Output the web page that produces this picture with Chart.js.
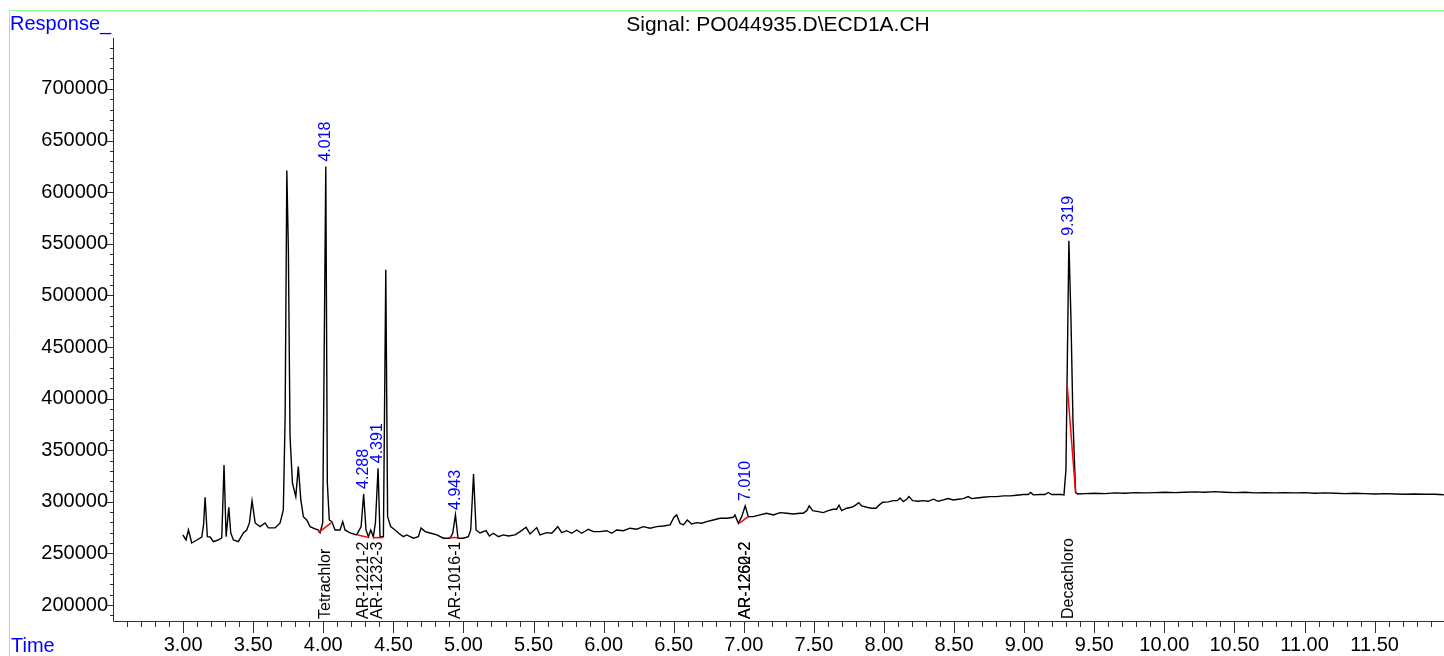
<!DOCTYPE html>
<html>
<head>
<meta charset="utf-8">
<title>Signal: PO044935.D\ECD1A.CH</title>
<script src="https://cdn.jsdelivr.net/npm/chart.js@4.4.0/dist/chart.umd.min.js"></script>
<style>
  html, body { margin: 0; padding: 0; background: #fff; }
  #wrap { width: 1444px; height: 656px; }
</style>
</head>
<body>
<div id="wrap"><canvas id="chromChart" width="1444" height="656"></canvas></div>
<script>
// Trace: retention time (min) and detector response
const times = [
    2.998, 3.021, 3.038, 3.062, 3.098, 3.133, 3.146, 3.157, 3.173, 3.193,
    3.216, 3.250, 3.276, 3.292, 3.307, 3.326, 3.340, 3.359, 3.394, 3.430,
    3.454, 3.473, 3.492, 3.514, 3.549, 3.585, 3.608, 3.656, 3.692, 3.715,
    3.728, 3.740, 3.751, 3.763, 3.780, 3.804, 3.822, 3.840, 3.858, 3.882,
    3.906, 3.929, 3.965, 3.977, 3.996, 4.018, 4.029, 4.043, 4.061, 4.084,
    4.120, 4.139, 4.155, 4.191, 4.239, 4.270, 4.288, 4.305, 4.322, 4.339,
    4.357, 4.372, 4.391, 4.405, 4.429, 4.446, 4.459, 4.481, 4.512, 4.536,
    4.571, 4.595, 4.643, 4.678, 4.698, 4.726, 4.762, 4.810, 4.857, 4.904,
    4.924, 4.943, 4.961, 4.999, 5.035, 5.052, 5.072, 5.090, 5.118, 5.161,
    5.185, 5.213, 5.249, 5.285, 5.320, 5.368, 5.404, 5.447, 5.475, 5.523,
    5.546, 5.594, 5.630, 5.673, 5.701, 5.737, 5.772, 5.808, 5.844, 5.891,
    5.927, 5.974, 6.022, 6.058, 6.093, 6.141, 6.188, 6.236, 6.283, 6.331,
    6.379, 6.426, 6.474, 6.502, 6.521, 6.545, 6.568, 6.597, 6.628, 6.664,
    6.700, 6.735, 6.782, 6.830, 6.878, 6.925, 6.937, 6.961, 6.985, 7.010,
    7.032, 7.068, 7.116, 7.163, 7.211, 7.258, 7.306, 7.353, 7.401, 7.424,
    7.449, 7.467, 7.491, 7.531, 7.567, 7.603, 7.638, 7.662, 7.679, 7.698,
    7.734, 7.770, 7.800, 7.820, 7.841, 7.877, 7.912, 7.943, 7.967, 7.991,
    8.031, 8.066, 8.095, 8.114, 8.138, 8.162, 8.178, 8.205, 8.245, 8.280,
    8.316, 8.352, 8.387, 8.423, 8.459, 8.494, 8.530, 8.566, 8.601, 8.625,
    8.661, 8.708, 8.756, 8.804, 8.851, 8.899, 8.946, 8.994, 9.029, 9.046,
    9.065, 9.113, 9.148, 9.172, 9.196, 9.232, 9.267, 9.284, 9.298, 9.319,
    9.334, 9.348, 9.367, 9.383, 9.434, 9.505, 9.576, 9.648, 9.719, 9.790,
    9.862, 9.933, 10.004, 10.076, 10.147, 10.218, 10.290, 10.361, 10.432, 10.504,
    10.575, 10.646, 10.718, 10.789, 10.860, 10.932, 11.003, 11.074, 11.146, 11.217,
    11.288, 11.360, 11.431, 11.502, 11.573, 11.645, 11.716, 11.787, 11.859, 11.930,
    11.994
];
const response = [
    267900, 263000, 272700, 260100, 263000, 265900, 277600, 304400, 266200, 265900,
    261400, 263000, 265000, 335700, 266200, 294700, 269800, 263000, 261400, 269800,
    272700, 279500, 301100, 279500, 275900, 279500, 274700, 274700, 279500, 292100,
    382600, 621100, 544200, 363200, 318300, 305000, 334100, 301800, 285600, 282400,
    275900, 274400, 272700, 270100, 279500, 624800, 318300, 282400, 280800, 272700,
    272700, 280800, 272700, 269800, 267900, 275900, 307600, 272700, 266200, 272700,
    266200, 279500, 332500, 266200, 266200, 524800, 285600, 275900, 272700, 269800,
    266200, 267900, 264700, 266200, 274700, 271100, 269800, 267900, 264700, 264700,
    269800, 287300, 264700, 264700, 266200, 272700, 327000, 272700, 269800, 272000,
    266900, 269500, 266200, 267900, 266900, 267900, 271100, 275300, 268800, 275000,
    267900, 270100, 269500, 275900, 270100, 272000, 269500, 272700, 269500, 273400,
    271100, 271100, 272000, 269500, 272700, 272000, 274400, 273400, 275900, 274400,
    275900, 276600, 277600, 285000, 287300, 279200, 277600, 282400, 278500, 279800,
    279200, 280800, 282400, 284100, 284100, 285000, 287300, 279200, 285600, 296000,
    285600, 285600, 287300, 288900, 287300, 289500, 288900, 288200, 288900, 288900,
    291400, 296000, 291400, 290500, 289500, 291400, 292800, 292800, 296700, 291400,
    293800, 294700, 297000, 299200, 296000, 294700, 293800, 293800, 297000, 299600,
    299900, 301100, 301100, 303700, 300200, 302500, 305000, 301100, 300500, 301100,
    300500, 302500, 300500, 301800, 303100, 301800, 302500, 303100, 305000, 303100,
    303700, 304400, 305000, 305000, 305700, 305700, 306400, 307000, 307000, 309000,
    306700, 307000, 307000, 309000, 307000, 307000, 307000, 306700, 330900, 552900,
    476300, 379400, 308900, 307600, 307900, 308300, 307900, 308600, 308300, 308900,
    308600, 308900, 309300, 308900, 309300, 309600, 309300, 309900, 309300, 308900,
    309300, 308600, 308900, 308600, 308900, 308600, 308900, 308300, 308600, 308300,
    307900, 308300, 307900, 307600, 307900, 307600, 307300, 307600, 307300, 307300,
    306900
];

// Integration baselines (red), start and end of each
const baseStartT = [3.965, 4.246, 4.353, 4.892, 6.966, 9.307];
const baseStartV = [270100, 267900, 265300, 265300, 279200, 413300];
const baseEndT   = [4.056, 4.329, 4.424, 4.964, 7.032, 9.367];
const baseEndV   = [279500, 265300, 265300, 265300, 285600, 308900];

// Peak annotations
const peakTimes = [4.018, 4.288, 4.391, 4.943, 7.010, 9.319];
const compoundTimes = [4.018, 4.288, 4.391, 4.943, 7.010, 7.010, 9.319];
const compoundNames = ['Tetrachlor', 'AR-1221-2', 'AR-1232-3', 'AR-1016-1', 'AR-1260-2', 'AR-1262-2', 'Decachloro'];

// Axes
const xTickValues = [3.0, 3.5, 4.0, 4.5, 5.0, 5.5, 6.0, 6.5, 7.0, 7.5, 8.0, 8.5, 9.0, 9.5, 10.0, 10.5, 11.0, 11.5];
const yTickValues = [200000, 250000, 300000, 350000, 400000, 450000, 500000, 550000, 600000, 650000, 700000];
const titleText = 'Signal: PO044935.D\\ECD1A.CH';

const FONT = '"Liberation Sans", Arial, sans-serif';

const traceData = times.map((t, i) => ({ x: t, y: response[i] }));
const baselineSets = baseStartT.map((t, i) => ({
    data: [{ x: t, y: baseStartV[i] }, { x: baseEndT[i], y: baseEndV[i] }],
    borderColor: '#ff0000',
    borderWidth: 1.5,
    pointRadius: 0,
    order: 0
}));

function peakHeight(t) {
    let best = -Infinity;
    times.forEach((tt, i) => {
        if (Math.abs(tt - t) < 0.012 && response[i] > best) best = response[i];
    });
    return best;
}

const chromDecor = {
    id: 'chromDecor',
    afterDraw(chart) {
        const { ctx, chartArea, scales } = chart;
        const xs = scales.x, ys = scales.y;
        const left = chartArea.left, bottom = chartArea.bottom;
        ctx.save();

        // green frame
        ctx.strokeStyle = '#80ff80';
        ctx.lineWidth = 1;
        ctx.beginPath();
        ctx.moveTo(9.5, 656);
        ctx.lineTo(9.5, 10.5);
        ctx.lineTo(1444, 10.5);
        ctx.stroke();

        // axis lines and ticks
        ctx.strokeStyle = '#303030';
        ctx.beginPath();
        ctx.moveTo(left + 0.5, chartArea.top);
        ctx.lineTo(left + 0.5, bottom + 0.5);
        ctx.lineTo(chartArea.right, bottom + 0.5);
        for (let i = 26; i <= 119; i++) {
            const px = Math.round(xs.getPixelForValue(i / 10)) + 0.5;
            ctx.moveTo(px, bottom);
            ctx.lineTo(px, bottom + (i % 5 === 0 ? 12 : 6));
        }
        for (let v = 190000; v <= 740000; v += 10000) {
            const py = Math.round(ys.getPixelForValue(v)) + 0.5;
            ctx.moveTo(left, py);
            ctx.lineTo(left - (v % 50000 === 0 ? 6 : 3), py);
        }
        ctx.stroke();

        // header texts
        ctx.fillStyle = '#000';
        ctx.font = '21px ' + FONT;
        ctx.textAlign = 'center';
        ctx.textBaseline = 'alphabetic';
        ctx.fillText(titleText, 778, 31);
        ctx.font = '20px ' + FONT;
        ctx.fillStyle = '#0000ff';
        ctx.textAlign = 'left';
        ctx.fillText('Response_', 10, 30);
        ctx.fillText('Time', 11, 652);

        // compound names along the time axis
        ctx.font = '16px ' + FONT;
        ctx.textBaseline = 'middle';
        ctx.fillStyle = '#000';
        compoundTimes.forEach((t, i) => {
            ctx.save();
            ctx.translate(xs.getPixelForValue(t), bottom - 2);
            ctx.rotate(-Math.PI / 2);
            ctx.fillText(compoundNames[i], 0, 0);
            ctx.restore();
        });

        // retention times above the peaks
        ctx.fillStyle = '#0000ff';
        peakTimes.forEach(t => {
            ctx.save();
            ctx.translate(xs.getPixelForValue(t), ys.getPixelForValue(peakHeight(t)) - 5);
            ctx.rotate(-Math.PI / 2);
            ctx.fillText(t.toFixed(3), 0, 0);
            ctx.restore();
        });
        ctx.restore();
    }
};

new Chart(document.getElementById('chromChart'), {
    type: 'line',
    data: {
        datasets: [...baselineSets, {
            data: traceData,
            borderColor: '#000000',
            borderWidth: 1.4,
            pointRadius: 0,
            tension: 0,
            order: 1
        }]
    },
    options: {
        responsive: false,
        animation: false,
        devicePixelRatio: 1,
        layout: { padding: { top: 38, left: 0, right: 0, bottom: 0 } },
        plugins: { legend: { display: false }, tooltip: { enabled: false } },
        scales: {
            x: {
                type: 'linear',
                min: 2.5,
                max: 11.995,
                grid: { display: false, drawTicks: false },
                border: { display: false },
                afterBuildTicks: scale => { scale.ticks = xTickValues.map(v => ({ value: v })); },
                afterFit: scale => { scale.height = 35; },
                ticks: {
                    autoSkip: false,
                    maxRotation: 0,
                    padding: 12,
                    color: '#000',
                    font: { family: FONT, size: 20 },
                    callback: v => Number(v).toFixed(2)
                }
            },
            y: {
                min: 184500,
                max: 749400,
                grid: { display: false, drawTicks: false },
                border: { display: false },
                afterBuildTicks: scale => { scale.ticks = yTickValues.map(v => ({ value: v })); },
                afterFit: scale => { scale.width = 113; },
                ticks: {
                    autoSkip: false,
                    padding: 5,
                    color: '#000',
                    font: { family: FONT, size: 20 },
                    callback: v => String(v)
                }
            }
        }
    },
    plugins: [chromDecor]
});
</script>
</body>
</html>
